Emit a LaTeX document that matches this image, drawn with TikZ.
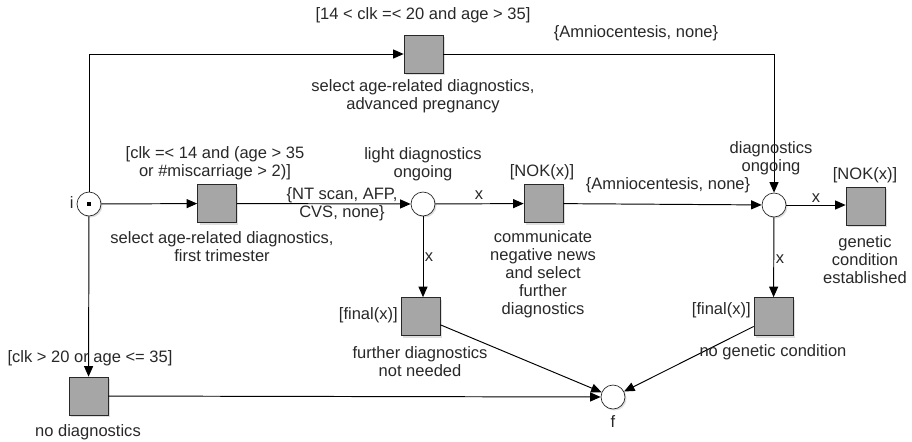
\documentclass[tikz,border=0pt]{standalone}
\usepackage{fontspec}
\setmainfont{Liberation Sans}
\usetikzlibrary{arrows.meta,shadows}
\definecolor{transgray}{RGB}{166,166,166}
\definecolor{inkgray}{RGB}{40,40,40}
\tikzset{
  place/.style={circle,draw=inkgray,fill=white,minimum size=0.48cm,inner sep=0pt,
    drop shadow={shadow xshift=0.03cm,shadow yshift=-0.03cm,opacity=0.25}},
  trans/.style={rectangle,draw=inkgray,fill=transgray,minimum width=0.78cm,
    minimum height=0.76cm,inner sep=0pt,
    drop shadow={shadow xshift=0.04cm,shadow yshift=-0.04cm,opacity=0.25}},
  tok/.style={rectangle,fill=black,minimum size=0.08cm,inner sep=0pt},
  arc/.style={draw=black,line width=0.55pt,-{Triangle[length=0.21cm,width=0.18cm]}},
  lbl/.style={font=\fontsize{9.4}{10.3}\selectfont,text=inkgray,align=center,inner sep=0pt}
}
\begin{document}
  \begin{tikzpicture}[x=0.02cm,y=-0.02cm]
    \useasboundingbox (0,0) rectangle (912,441);
    % places and transitions
    \node[place] (i) at (89,204) {};
    \node[tok] (itok) at (i) {};
    \node[trans] (tTri) at (217,203.5) {};
    \node[place] (pLight) at (423,204) {};
    \node[trans] (tNokA) at (543.5,203.5) {};
    \node[place] (pDiag) at (774,205) {};
    \node[trans] (tNokB) at (865.5,206) {};
    \node[trans] (tAdv) at (423.5,54) {};
    \node[trans] (tFur) at (420.5,316.5) {};
    \node[trans] (tNoGen) at (773.5,316.5) {};
    \node[trans] (tNoDiag) at (88.5,396) {};
    \node[place] (f) at (613,397) {};
    % arcs
    \draw[arc] (i) -- (tTri);
    \draw[arc] (i) |- (tAdv);
    \draw[arc] (i) -- (tNoDiag);
    \draw[arc] (tTri) -- (pLight);
    \draw[arc] (pLight) -- (tNokA);
    \draw[arc] (pLight) -- (pLight |- tFur.north);
    \draw[arc] (tNokA) -- (pDiag);
    \draw[arc] (tAdv) -| (pDiag);
    \draw[arc] (pDiag) -- (pDiag -| tNokB.west);
    \draw[arc] (pDiag) -- (tNoGen);
    \draw[arc] (tFur) -- (f);
    \draw[arc] (tNoGen) -- (f);
    \draw[arc] (tNoDiag) -- (f);
    % labels
    \node[lbl,anchor=east] (li) at (74,203) {i};
    \node[lbl] (gAdv) at (423,15) {[14 < clk =< 20 and age > 35]};
    \node[lbl,anchor=north] (nAdv) at (423,79) {select age-related diagnostics,\\advanced pregnancy};
    \node[lbl] (wAdv) at (636,33) {\{Amniocentesis, none\}};
    \node[lbl] (gTri) at (215,163) {[clk =< 14 and (age > 35\\or \#miscarriage > 2)]};
    \node[lbl,anchor=north] (nTri) at (222,231) {select age-related diagnostics,\\first trimester};
    \node[lbl] (wTri) at (342,204) {\{NT scan, AFP,\\CVS, none\}};
    \node[lbl] (nLight) at (423,164) {light diagnostics\\ongoing};
    \node[lbl] (wLightA) at (479,195) {x};
    \node[lbl] (wLightB) at (429,257) {x};
    \node[lbl] (gNokA) at (542,172) {[NOK(x)]};
    \node[lbl,anchor=north] (nNokA) at (543,230) {communicate\\negative news\\and select\\further\\diagnostics};
    \node[lbl,anchor=east] (gFur) at (398,315) {[final(x)]};
    \node[lbl,anchor=north] (nFur) at (420,346) {further diagnostics\\not needed};
    \node[lbl] (wNokA) at (668,185) {\{Amniocentesis, none\}};
    \node[lbl] (nDiag) at (771,158) {diagnostics\\ongoing};
    \node[lbl] (wDiagA) at (816,198) {x};
    \node[lbl] (wDiagB) at (780,259) {x};
    \node[lbl] (gNokB) at (865,175) {[NOK(x)]};
    \node[lbl,anchor=north] (nNokB) at (865,235) {genetic\\condition\\established};
    \node[lbl,anchor=east] (gNoGen) at (751,310) {[final(x)]};
    \node[lbl] (nNoGen) at (773,352) {no genetic condition};
    \node[lbl] (gNoDiag) at (90,358) {[clk > 20 or age <= 35]};
    \node[lbl] (nNoDiag) at (88,432) {no diagnostics};
    \node[lbl] (lf) at (613,422) {f};
  \end{tikzpicture}
\end{document}
